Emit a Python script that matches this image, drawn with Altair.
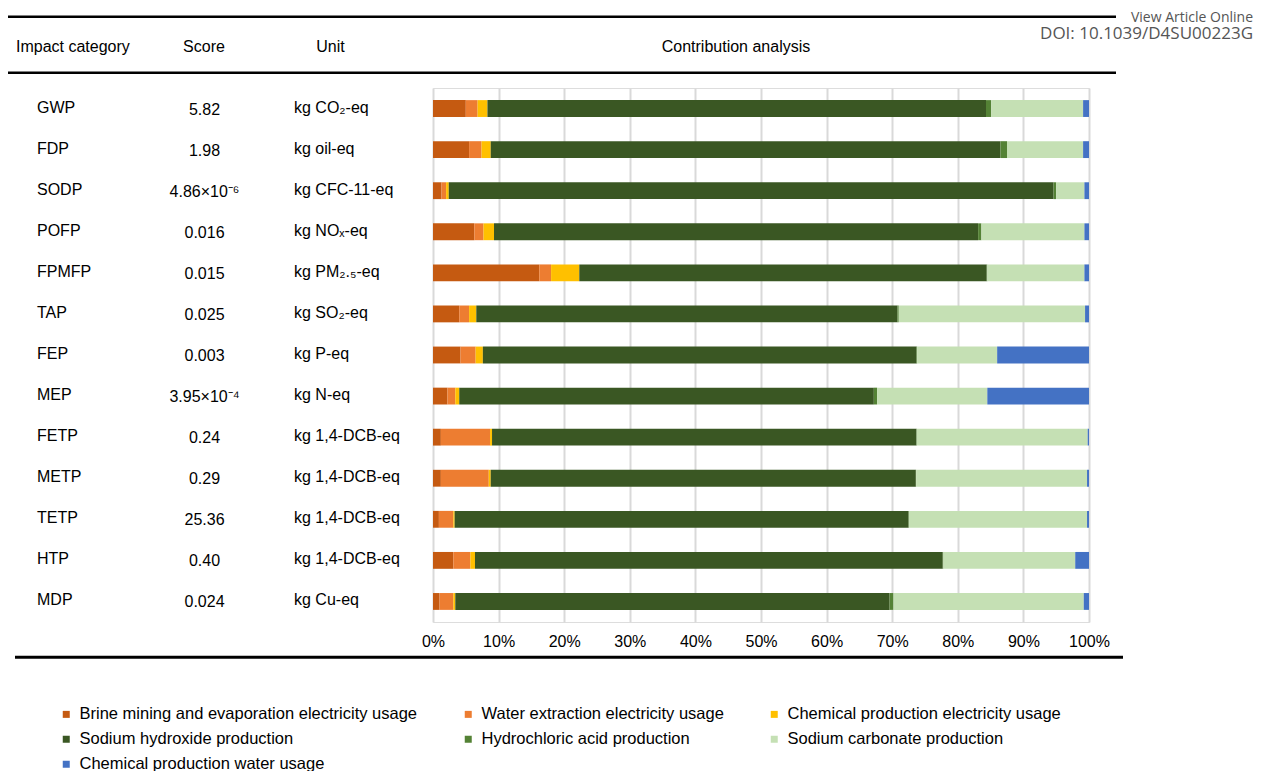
import altair as alt
import pandas as pd

categories = ["GWP", "FDP", "SODP", "POFP", "FPMFP", "TAP", "FEP", "MEP",
              "FETP", "METP", "TETP", "HTP", "MDP"]
scores = ["5.82", "1.98", "4.86×10⁻⁶", "0.016", "0.015", "0.025", "0.003",
          "3.95×10⁻⁴", "0.24", "0.29", "25.36", "0.40", "0.024"]
units = ["kg CO₂-eq", "kg oil-eq", "kg CFC-11-eq", "kg NOₓ-eq", "kg PM₂.₅-eq",
         "kg SO₂-eq", "kg P-eq", "kg N-eq", "kg 1,4-DCB-eq", "kg 1,4-DCB-eq",
         "kg 1,4-DCB-eq", "kg 1,4-DCB-eq", "kg Cu-eq"]

series_names = [
    "Brine mining and evaporation electricity usage",
    "Water extraction electricity usage",
    "Chemical production electricity usage",
    "Sodium hydroxide production",
    "Hydrochloric acid production",
    "Sodium carbonate production",
    "Chemical production water usage",
]
series_colors = ["#C55A11", "#ED7D31", "#FFC000", "#3A5723", "#548235", "#C5E0B4", "#4472C4"]

# contribution shares (%) per impact category
brine = [5.0, 5.5, 1.3, 6.3, 16.2, 4.0, 4.2, 2.2, 1.2, 1.2, 0.9, 3.1, 1.0]
water = [1.8, 1.9, 0.7, 1.4, 1.8, 1.5, 2.3, 1.2, 7.5, 7.3, 2.2, 2.6, 2.1]
chem_elec = [1.5, 1.4, 0.4, 1.6, 4.3, 1.1, 1.1, 0.6, 0.3, 0.3, 0.2, 0.7, 0.3]
naoh = [76.0, 77.7, 92.2, 73.8, 62.1, 64.2, 66.1, 63.2, 64.7, 64.8, 69.2, 71.3, 66.2]
hcl = [0.8, 1.0, 0.4, 0.5, 0.1, 0.2, 0.1, 0.5, 0.05, 0.05, 0.05, 0.1, 0.6]
na2co3 = [14.0, 11.6, 4.3, 15.7, 14.8, 28.4, 12.2, 16.8, 26.05, 26.05, 27.15, 20.1, 29.0]
chem_water = [0.9, 0.9, 0.7, 0.7, 0.7, 0.6, 14.0, 15.5, 0.2, 0.3, 0.3, 2.1, 0.8]

series_values = [brine, water, chem_elec, naoh, hcl, na2co3, chem_water]

rows = []
for si, (name, vals) in enumerate(zip(series_names, series_values)):
    for cat, v in zip(categories, vals):
        rows.append({"category": cat, "series": name, "idx": si, "value": v})
df = pd.DataFrame(rows)

table = pd.DataFrame({"category": categories, "score": scores, "unit": units})
one = pd.DataFrame({"k": [0]})

FONT = "Liberation Sans"
ycat = alt.Y("category:N", sort=categories,
             scale=alt.Scale(paddingInner=0.59, paddingOuter=0.295), axis=None)

bars = alt.Chart(df).mark_bar().encode(
    x=alt.X("value:Q", stack="normalize",
            scale=alt.Scale(domain=[0, 1], nice=False),
            axis=alt.Axis(format=".0%", values=[i / 10 for i in range(11)],
                          grid=True, gridColor="#d9d9d9", gridWidth=2,
                          domain=False, ticks=False, labelFontSize=16,
                          labelPadding=11, labelColor="black", labelFont=FONT,
                          labelFlush=False, labelOverlap=False,
                          title=None)),
    y=ycat,
    color=alt.Color("series:N",
                    scale=alt.Scale(domain=series_names, range=series_colors),
                    legend=alt.Legend(orient="none", legendX=-375, legendY=618,
                                      direction="horizontal", columns=3,
                                      columnPadding=42, rowPadding=8,
                                      symbolType="square", symbolSize=49,
                                      symbolStrokeWidth=0, labelFontSize=16.5,
                                      labelFont=FONT, labelColor="black",
                                      labelOffset=5, labelLimit=0,
                                      title=None, padding=0)),
    order=alt.Order("idx:Q"),
)

base_t = alt.Chart(table).encode(y=ycat)
cat_text = base_t.mark_text(align="left", baseline="middle", fontSize=16,
                            font=FONT, color="black", dy=-1).encode(
    x=alt.value(-396), text="category:N")
score_text = base_t.mark_text(align="center", baseline="middle", fontSize=16,
                              font=FONT, color="black", dy=1).encode(
    x=alt.value(-228.5), text="score:N")
unit_text = base_t.mark_text(align="left", baseline="middle", fontSize=16,
                             font=FONT, color="black", dy=-1).encode(
    x=alt.value(-139), text="unit:N")


def htext(label, x, align, y=-41.5, size=16, color="black", font=FONT):
    return alt.Chart(one).mark_text(align=align, baseline="middle", fontSize=size,
                                    font=font, color=color).encode(
        x=alt.value(x), y=alt.value(y), text=alt.value(label))


def hline(x1, x2, y, w=2.5):
    return alt.Chart(one).mark_rule(color="black", strokeWidth=w).encode(
        x=alt.value(x1), x2=alt.value(x2), y=alt.value(y))


headers = [
    htext("Impact category", -417, "left"),
    htext("Score", -229, "center"),
    htext("Unit", -102.5, "center"),
    htext("Contribution analysis", 303, "center"),
    htext("View Article Online", 820, "right", y=-70.5, size=14, color="#555555", font="Open Sans"),
    htext("DOI: 10.1039/D4SU00223G", 820, "right", y=-54, size=17, color="#555555", font="Open Sans"),
]
lines = [
    hline(-425, 683, -71.3),
    hline(-425, 683, -15.3),
    hline(-418, 690, 569.3, 3),
]

chart = alt.layer(bars, cat_text, score_text, unit_text, *headers, *lines).properties(
    width=656, height=534,
    padding={"left": 425, "top": 80, "right": 165, "bottom": 149},
    autosize=alt.AutoSizeParams(type="none"),
).configure_view(strokeWidth=0).configure(font=FONT)

chart.save("out.html", embed_options={"renderer": "svg", "actions": False})
